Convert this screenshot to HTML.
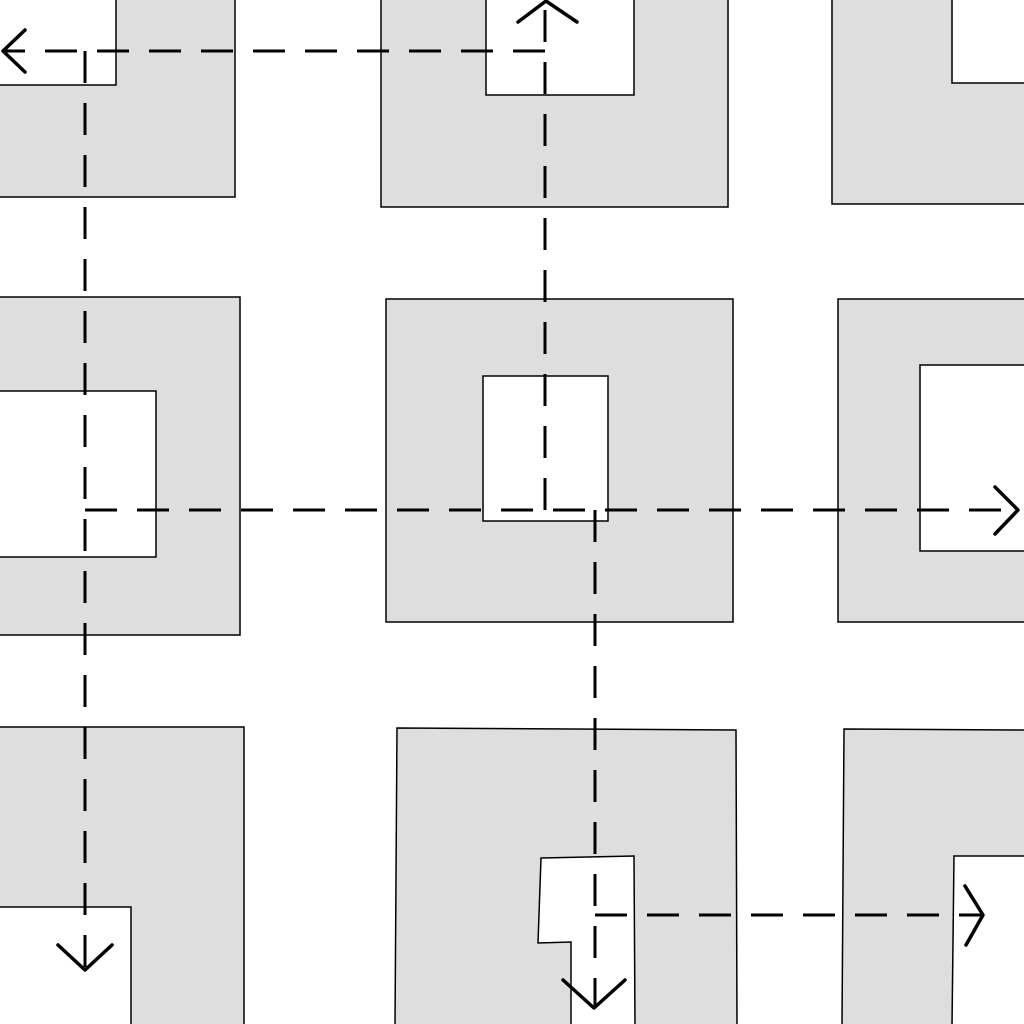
<!DOCTYPE html>
<html><head><style>html,body{margin:0;padding:0;background:#fff}svg{display:block}</style></head>
<body>
<svg width="1024" height="1024" viewBox="0 0 1024 1024" xmlns="http://www.w3.org/2000/svg">
<g fill="#dedede" stroke="#000" stroke-width="1.5" fill-rule="evenodd">
<path d="M116,-2 L235,-2 L235,197 L-2,197 L-2,85 L116,85 Z"/>
<path d="M381,-2 L728,-2 L728,207 L381,207 Z M486,-2 L634,-2 L634,95 L486,95 Z"/>
<path d="M832,-2 L1026,-2 L1026,204 L832,204 Z M952,-2 L1026,-2 L1026,83 L952,83 Z"/>
<path d="M-2,297 L240,297 L240,635 L-2,635 Z M-2,391 L156,391 L156,557 L-2,557 Z"/>
<path d="M386,299 L733,299 L733,622 L386,622 Z M483,376 L608,376 L608,521 L483,521 Z"/>
<path d="M838,299 L1026,299 L1026,622 L838,622 Z M920,365 L1026,365 L1026,551 L920,551 Z"/>
<path d="M-2,727 L244,727 L244,1026 L-2,1026 Z M-2,907 L131,907 L131,1026 L-2,1026 Z"/>
<path d="M397,728 L736,730 L737,1026 L395,1026 Z M541,858 L634,856 L635,1026 L571,1026 L571,942 L538,943 Z"/>
<path d="M844,729 L1026,730 L1026,1026 L842,1026 Z M954,856 L1026,856 L1026,1026 L952,1026 Z"/>
</g>
<g fill="none" stroke="#000" stroke-width="3" stroke-dasharray="32 20">
<path d="M545,51 L2,51"/>
<path d="M545,510 L545,2"/>
<path d="M85,51 L85,968"/>
<path d="M85,510 L1016,510"/>
<path d="M595,510 L595,1006"/>
<path d="M595,915 L982,915"/>
</g>
<g fill="none" stroke="#000" stroke-width="3.5" stroke-linecap="round" stroke-linejoin="round">
<path d="M25,30 L3,51 L25,72"/>
<path d="M518,22 L546,1 L577,22"/>
<path d="M58,945 L85,970 L112,945"/>
<path d="M995,487 L1018,510 L995,534"/>
<path d="M563,980 L594,1008 L625,980"/>
<path d="M965,886 L983,915 L966,945"/>
</g>
</svg>
</body></html>
